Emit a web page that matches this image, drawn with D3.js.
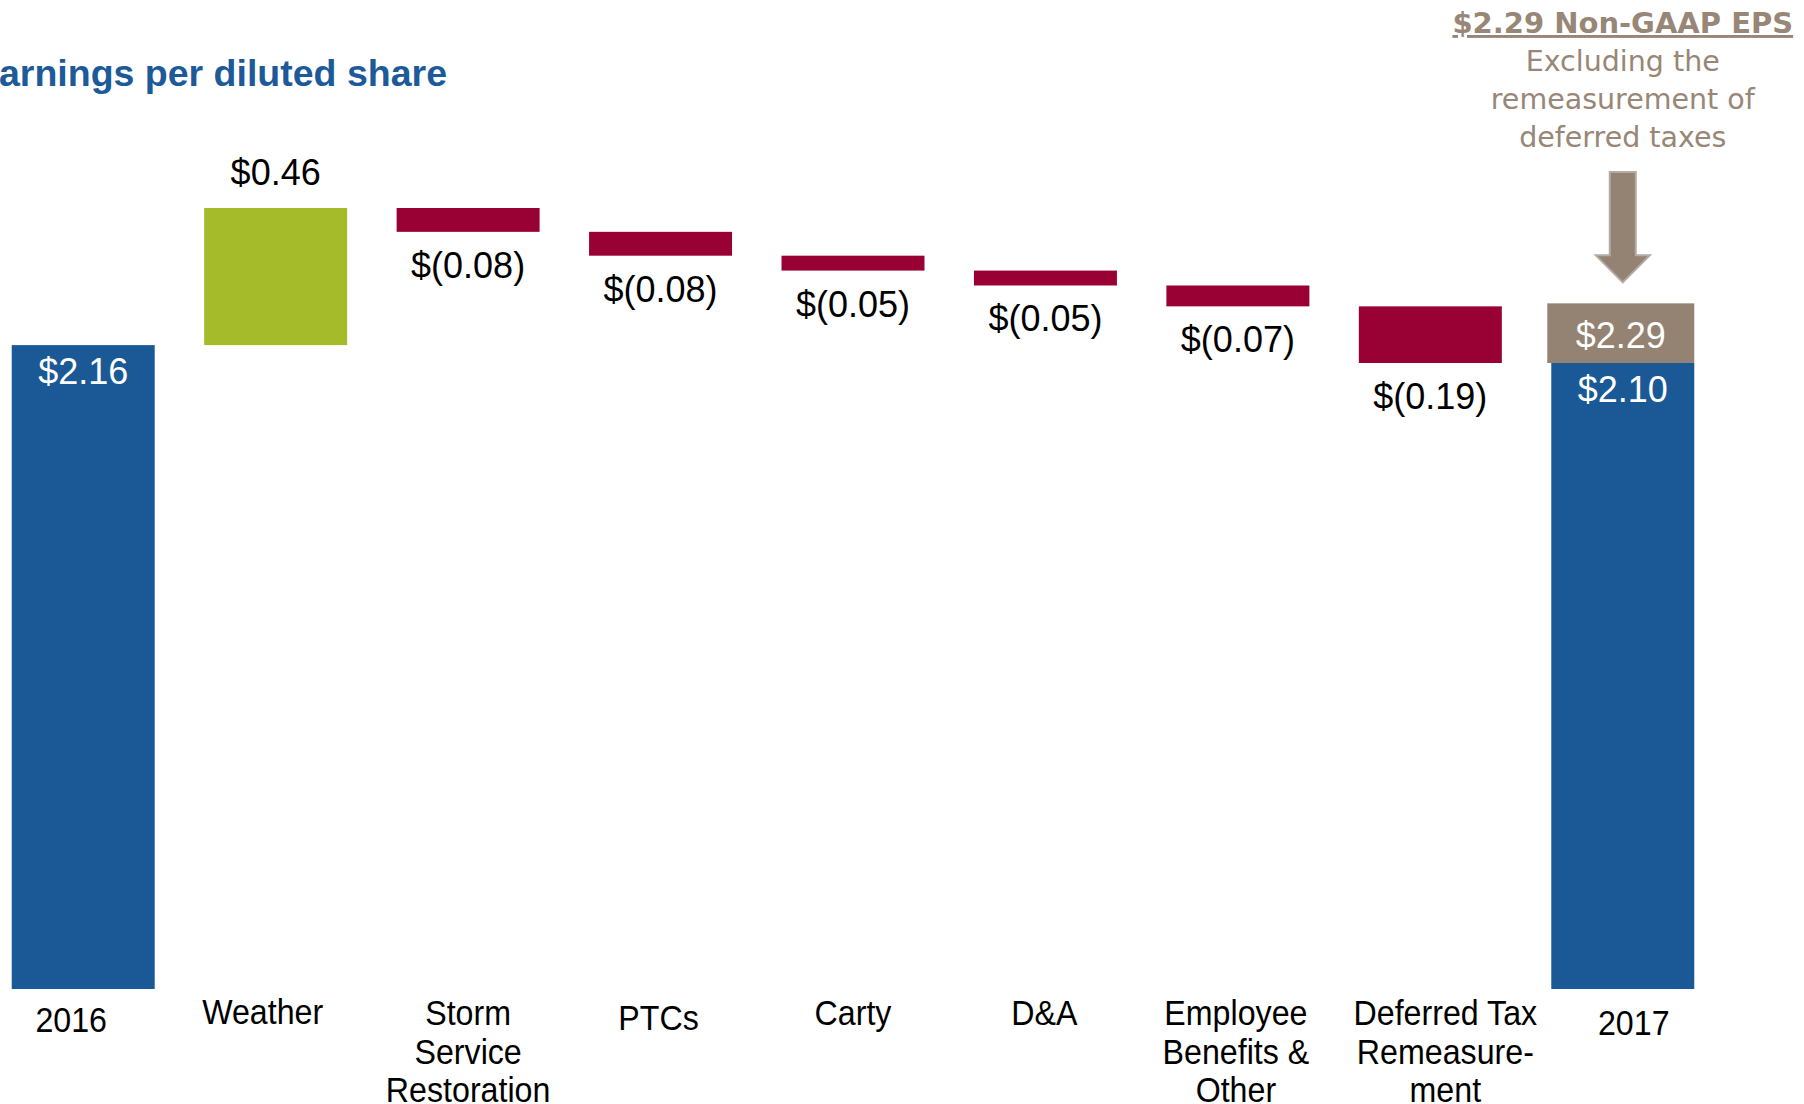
<!DOCTYPE html>
<html>
<head>
<meta charset="utf-8">
<script src="https://cdnjs.cloudflare.com/ajax/libs/d3/7.8.5/d3.min.js"></script>
<style>
  body { margin: 0; background: #fff; }
  #chart { width: 1804px; height: 1104px; }
</style>
</head>
<body>
<div id="chart"></div>
<script>
// waterfall data
var categories = ["2016", "Weather", "Storm", "PTCs", "Carty", "D&A", "Employee", "Deferred", "2017"];
var catLines = [["2016"], ["Weather"], ["Storm", "Service", "Restoration"], ["PTCs"], ["Carty"], ["D&A"],
                ["Employee", "Benefits &", "Other"], ["Deferred Tax", "Remeasure-", "ment"], ["2017"]];
var values = [2.16, 0.46, -0.08, -0.08, -0.05, -0.05, -0.07, -0.19, 2.10];
var valueLabels = ["$2.16", "$0.46", "$(0.08)", "$(0.08)", "$(0.05)", "$(0.05)", "$(0.07)", "$(0.19)", "$2.10"];
var isTotal = [true, false, false, false, false, false, false, false, true];
var nonGaap = 2.29;
var nonGaapLabel = "$2.29";
var noteLines = ["Excluding the", "remeasurement of", "deferred taxes"];

// layout: small hand nudges of the category labels (px), as in the slide
var labelNudge = [[-12, 7], [-13, -1], [0, 0], [-2, 5], [0, 0], [-1, 0], [-2, 0], [15, 0], [11, 10]];

var w = 1804, h = 1104;
var blue = "#1b5896", green = "#a5bb2a", red = "#990033", taupe = "#948272";

var svg = d3.select("#chart").append("svg").attr("width", w).attr("height", h);

var x = d3.scaleBand().domain(categories).range([-13, 1719]).paddingInner(0.257).paddingOuter(0.1285);
var y = d3.scaleLinear().domain([0, 2.1]).range([989, 363]);

// running totals
var run = 0;
var bars = values.map(function(v, i) {
    var b;
    if (isTotal[i]) {
        b = {lo: 0, hi: v};
        run = v;
    } else {
        b = {lo: Math.min(run, run + v), hi: Math.max(run, run + v)};
        run = run + v;
    }
    b.cat = categories[i];
    b.v = v;
    b.label = valueLabels[i];
    b.total = isTotal[i];
    return b;
});

svg.append("text")
    .attr("x", 447).attr("y", 86)
    .attr("text-anchor", "end")
    .style("font-family", "Liberation Sans, Arial, sans-serif")
    .style("font-weight", "bold")
    .style("font-size", "37.5px")
    .style("fill", "#1c5a99")
    .text("Earnings per diluted share");

var g = svg.append("g").attr("class", "bars");

g.selectAll("rect.bar")
    .data(bars)
    .enter().append("rect")
    .attr("class", "bar")
    .attr("x", function(d) { return x(d.cat); })
    .attr("width", x.bandwidth())
    .attr("y", function(d) { return y(d.hi); })
    .attr("height", function(d) { return y(d.lo) - y(d.hi); })
    .attr("fill", function(d) {
        if (d.total) return blue;
        return d.v > 0 ? green : red;
    });

// non-GAAP cap on the 2017 bar
var last = categories[categories.length - 1];
svg.append("rect")
    .attr("x", x(last) - 4)
    .attr("width", x.bandwidth() + 4)
    .attr("y", y(nonGaap) - 3)
    .attr("height", y(values[values.length - 1]) - y(nonGaap) + 3)
    .attr("fill", taupe);

var valFont = "Liberation Sans, Arial, sans-serif";

g.selectAll("text.val")
    .data(bars)
    .enter().append("text")
    .attr("class", "val")
    .attr("x", function(d) { return x(d.cat) + x.bandwidth() / 2; })
    .attr("y", function(d) {
        if (d.total) return y(d.hi) + 39;
        if (d.v > 0) return y(d.hi) - 23;
        return y(d.lo) + 46;
    })
    .attr("text-anchor", "middle")
    .style("font-family", valFont)
    .style("font-size", "36px")
    .style("fill", function(d) { return d.total ? "#fff" : "#000"; })
    .text(function(d) { return d.label; });

svg.append("text")
    .attr("x", x(last) + x.bandwidth() / 2 - 2)
    .attr("y", y(nonGaap) + 42)
    .attr("text-anchor", "middle")
    .style("font-family", valFont)
    .style("font-size", "36px")
    .style("fill", "#fff")
    .text(nonGaapLabel);

// category labels
var cl = svg.append("g").attr("class", "cats");
categories.forEach(function(c, i) {
    var cx = x(c) + x.bandwidth() / 2 + labelNudge[i][0];
    catLines[i].forEach(function(line, j) {
        cl.append("text")
            .attr("transform", "translate(" + cx + "," + (1025 + labelNudge[i][1] + j * 38.5) + ") scale(0.92,1)")
            .attr("text-anchor", "middle")
            .style("font-family", valFont)
            .style("font-size", "35px")
            .style("fill", "#000")
            .text(line);
    });
});

// annotation
var ax = x(last) + x.bandwidth() / 2;
var noteColor = "#988676";
svg.append("text")
    .attr("x", ax).attr("y", 33)
    .attr("text-anchor", "middle")
    .style("font-family", "DejaVu Sans, Verdana, sans-serif")
    .style("font-weight", "bold")
    .style("font-size", "29px")
    .style("text-decoration", "underline")
    .style("fill", noteColor)
    .text(nonGaapLabel + " Non-GAAP EPS");

noteLines.forEach(function(t, i) {
    svg.append("text")
        .attr("x", ax).attr("y", 71 + i * 38)
        .attr("text-anchor", "middle")
        .style("font-family", "DejaVu Sans, Verdana, sans-serif")
        .style("font-size", "28.5px")
        .style("fill", noteColor)
        .text(t);
});

// down arrow
var tip = y(nonGaap) - 24;
var arrow = d3.path();
arrow.moveTo(ax - 13, 172);
arrow.lineTo(ax + 13, 172);
arrow.lineTo(ax + 13, tip - 27);
arrow.lineTo(ax + 27, tip - 27);
arrow.lineTo(ax, tip);
arrow.lineTo(ax - 27, tip - 27);
arrow.lineTo(ax - 13, tip - 27);
arrow.closePath();
svg.append("path")
    .attr("d", arrow.toString())
    .attr("fill", taupe)
    .attr("stroke", "#b3aca6")
    .attr("stroke-width", 2);
</script>
</body>
</html>
